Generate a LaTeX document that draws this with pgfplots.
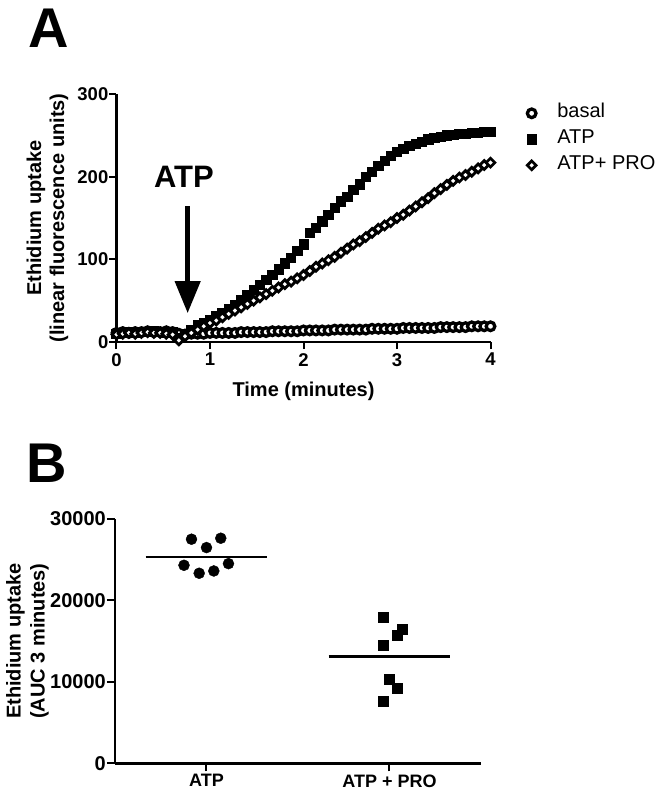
\documentclass[border=0pt]{standalone}
\usepackage{fontspec}
\setmainfont{Liberation Sans}
\usepackage{pgfplots}
\pgfplotsset{compat=1.18}
\usepackage{pgfplotstable}
\usetikzlibrary{arrows.meta}

\pgfplotstableread{
t basal atp pro
0.000 11 10 9
0.067 12 11 10
0.133 11 12 11
0.200 12 11 10
0.267 12 12 11
0.333 13 12 12
0.400 12 13 11
0.467 12 12 11
0.533 13 11 10
0.600 12 12 9
0.667 10 5 2
0.733 9 10 7
0.800 10 15 11
0.867 10 20 15
0.933 10 23 19
1.000 11 27 23
1.067 11 31 26
1.133 11 35 30
1.200 11 40 34
1.267 11 45 38
1.333 12 51 42
1.400 12 57 46
1.467 12 63 50
1.533 12 69 54
1.600 12 75 58
1.667 13 81 62
1.733 13 88 66
1.800 13 95 70
1.867 13 102 73
1.933 13 110 77
2.000 14 118 81
2.067 14 132 86
2.133 14 138 91
2.200 14 146 95
2.267 14 154 99
2.333 15 162 103
2.400 15 170 108
2.467 15 176 113
2.533 15 184 118
2.600 15 191 122
2.667 15 200 127
2.733 16 206 132
2.800 16 213 137
2.867 16 219 141
2.933 16 225 145
3.000 16 230 150
3.067 17 234 154
3.133 17 237 159
3.200 17 240 164
3.267 17 242 169
3.333 17 245 174
3.400 17 247 180
3.467 18 248 185
3.533 18 250 190
3.600 18 251 195
3.667 18 252 199
3.733 18 252 202
3.800 19 253 206
3.867 19 253 210
3.933 19 254 214
4.000 19 254 217
}\kinetics

\pgfplotstableread{
x y
-0.082 27520
0.078 27640
0.000 26490
-0.123 24320
0.120 24520
-0.040 23340
0.040 23620
}\aucatp

\pgfplotstableread{
x y
0.964 17890
1.068 16500
1.040 15680
0.964 14500
1.000 10320
1.044 9210
0.964 7650
}\aucpro

\begin{document}
\begin{tikzpicture}
\useasboundingbox (0pt,0pt) rectangle (665pt,-796pt);
\node[anchor=base west, inner sep=0pt, font=\fontsize{56}{60}\selectfont\bfseries] at (28pt,-47pt) {A};
\node[anchor=base west, inner sep=0pt, font=\fontsize{56}{60}\selectfont\bfseries] at (26pt,-482pt) {B};

\begin{axis}[
  at={(116.5pt,-342pt)}, anchor=south west,
  scale only axis, width=374pt, height=248pt,
  xmin=0, xmax=4, ymin=0, ymax=300,
  enlargelimits=false, clip=false,
  axis lines*=left,
  axis line style={line width=2.5pt, -},
  xtick={0,1,2,3,4}, ytick={0,100,200,300},
  tick align=outside, major tick length=7pt,
  tick style={line width=2pt, black},
  /pgf/number format/assume math mode=true,
  tick label style={font=\fontsize{18.5}{20}\selectfont\bfseries, inner sep=1pt},
  xticklabel style={yshift=-3pt},
  xlabel={Time (minutes)},
  xlabel style={at={(axis description cs:0.5,0)}, anchor=base, yshift=-54.7pt, font=\fontsize{20}{23}\selectfont\bfseries},
  ylabel={Ethidium uptake\\(linear fluorescence units)},
  ylabel style={at={(axis description cs:-0.1845,0.5)}, anchor=center, align=center, font=\fontsize{20}{23}\selectfont\bfseries},
  legend style={at={(1.097,0.8173)}, anchor=west, draw=none, fill=none, inner sep=0pt,
    font=\fontsize{20}{24}\selectfont, row sep=7pt, column sep=21pt,
    nodes={inner sep=0pt, text height=14pt, text depth=5pt}},
  legend cell align=left,
]
\addplot[only marks, mark=*, mark size=4.3pt, mark options={fill=white, draw=black, line width=3.3pt}] table[x=t, y=basal] {\kinetics};
\addlegendentry{basal}
\addplot[only marks, mark=square*, mark size=4.7pt, mark options={fill=black, draw=black, line width=0.6pt}] table[x=t, y=atp] {\kinetics};
\addlegendentry{ATP}
\addplot[only marks, mark=square*, mark size=3.1pt, mark options={rotate=45, fill=white, draw=black, line width=2.8pt}] table[x=t, y=pro] {\kinetics};
\addlegendentry{ATP+ PRO}
\node[font=\fontsize{31}{34}\selectfont\bfseries, anchor=base] at (axis cs:0.722,187.5) {ATP};
\draw[line width=4.5pt, -{Triangle[width=25pt, length=32pt]}] (axis cs:0.761,164) -- (axis cs:0.761,35);
\end{axis}

\begin{axis}[
  at={(115pt,-763.3pt)}, anchor=south west,
  scale only axis, width=366pt, height=244.3pt,
  xmin=-0.5, xmax=1.5, ymin=0, ymax=30000,
  enlargelimits=false, clip=false,
  axis lines*=left,
  axis line style={line width=2.5pt, -},
  xtick={0,1}, xticklabels={ATP, ATP + PRO},
  ytick={0,10000,20000,30000}, yticklabels={0,10000,20000,30000},
  scaled y ticks=false,
  tick align=outside, major tick length=8pt,
  tick style={line width=2pt, black},
  tick label style={font=\fontsize{18}{20}\selectfont\bfseries, inner sep=1pt},
  yticklabel style={font=\fontsize{20}{22}\selectfont\bfseries},
  xticklabel style={yshift=-2pt},
  ylabel={Ethidium uptake\\(AUC 3 minutes)},
  ylabel style={at={(axis description cs:-0.239,0.5)}, anchor=center, align=center, font=\fontsize{20}{24}\selectfont\bfseries},
]
\addplot[only marks, mark=*, mark size=5.5pt, black] table[x=x, y=y] {\aucatp};
\addplot[only marks, mark=square*, mark size=5pt, black] table[x=x, y=y] {\aucpro};
\addplot[black, line width=2.5pt] coordinates {(-0.333,25350) (0.333,25350)};
\addplot[black, line width=2.5pt] coordinates {(0.667,13107) (1.333,13107)};
\end{axis}
\end{tikzpicture}
\end{document}
